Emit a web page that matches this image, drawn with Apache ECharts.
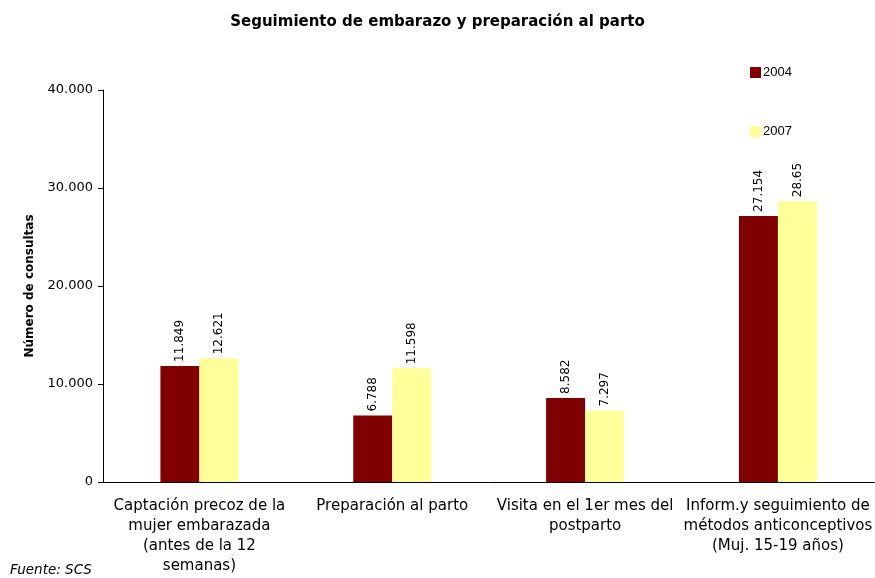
<!DOCTYPE html>
<html>
<head>
<meta charset="utf-8">
<script src="https://cdn.jsdelivr.net/npm/echarts@6/dist/echarts.min.js"></script>
<style>
  html, body { margin: 0; padding: 0; background: #fff; }
  #main { width: 875px; height: 578px; }
</style>
</head>
<body>
<div id="main"></div>
<script>
const categories = [
  "Captación precoz de la\nmujer embarazada\n(antes de la 12\nsemanas)",
  "Preparación al parto",
  "Visita en el 1er mes del\npostparto",
  "Inform.y seguimiento de\nmétodos anticonceptivos\n(Muj. 15-19 años)"
];
const values2004 = [11849, 6788, 8582, 27154];
const values2007 = [12621, 11598, 7297, 28650];
const yTicks = [0, 10000, 20000, 30000, 40000];

// separador de miles con punto
function fmt(v) {
  return String(v).replace(/\B(?=(\d{3})+(?!\d))/g, ".");
}

const chart = echarts.init(document.getElementById("main"));
const font = "DejaVu Sans, Verdana, sans-serif";

chart.setOption({
  animation: false,
  textStyle: { fontFamily: font },
  title: {
    text: "Seguimiento de embarazo y preparación al parto",
    left: "center",
    top: 10,
    textStyle: { fontSize: 15, fontWeight: "bold", color: "#000", fontFamily: font }
  },
  legend: {
    orient: "vertical",
    left: 745,
    top: 61,
    itemGap: 46,
    itemWidth: 11,
    itemHeight: 11,
    z: 60,
    textStyle: { fontSize: 13, color: "#000", fontFamily: "Liberation Sans, Arial, sans-serif", padding: [0, 0, 0, -3] },
    data: [
      { name: "2004", icon: "rect" },
      { name: "2007", icon: "rect" }
    ]
  },
  graphic: [
    {
      // caja blanca de la leyenda, tapa la etiqueta de arriba
      type: "rect",
      z: 50,
      shape: { x: 742, y: 56, width: 120, height: 106 },
      style: { fill: "#fff" }
    },
    {
      type: "text",
      left: 10,
      top: 563,
      style: { text: "Fuente: SCS", font: "italic 13.5px " + font, fill: "#000" }
    }
  ],
  grid: { left: 103, top: 90, width: 774, bottom: 96 },
  xAxis: {
    type: "category",
    data: categories,
    axisLine: { lineStyle: { color: "#000", width: 1 } },
    axisTick: { length: 5, lineStyle: { color: "#000" } },
    axisLabel: {
      color: "#000",
      fontSize: 15,
      lineHeight: 20,
      margin: 14,
      interval: 0,
      align: "center"
    }
  },
  yAxis: {
    type: "value",
    min: 0,
    max: 40000,
    interval: 10000,
    name: "Número de consultas",
    nameLocation: "middle",
    nameGap: 67,
    nameTextStyle: { fontSize: 12, fontWeight: "bold", color: "#000" },
    splitLine: { show: false },
    axisLine: { show: true, lineStyle: { color: "#000", width: 1 } },
    axisTick: { show: true, length: 5, lineStyle: { color: "#000" } },
    axisLabel: {
      color: "#000",
      fontSize: 13,
      margin: 10,
      formatter: function (v) { return yTicks.indexOf(v) >= 0 ? fmt(v) : ""; }
    }
  },
  series: [
    {
      name: "2004",
      type: "bar",
      data: values2004,
      barWidth: 39,
      barGap: "0%",
      itemStyle: { color: "#800000" },
      label: {
        show: true,
        position: "top",
        rotate: 90,
        align: "left",
        verticalAlign: "middle",
        distance: 4,
        fontSize: 12,
        color: "#000",
        formatter: function (p) { return fmt(p.value); }
      }
    },
    {
      name: "2007",
      type: "bar",
      data: values2007,
      barWidth: 39,
      barGap: "0%",
      itemStyle: { color: "#FFFF99" },
      label: {
        show: true,
        position: "top",
        rotate: 90,
        align: "left",
        verticalAlign: "middle",
        distance: 4,
        fontSize: 12,
        color: "#000",
        formatter: function (p) { return fmt(p.value); }
      }
    }
  ]
});
</script>
</body>
</html>
